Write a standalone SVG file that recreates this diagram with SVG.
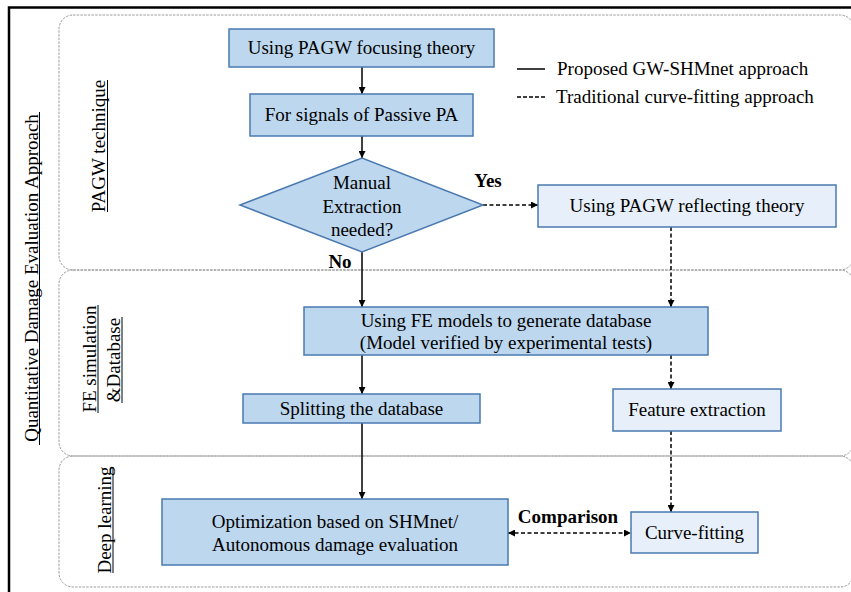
<svg xmlns="http://www.w3.org/2000/svg" width="851" height="592" viewBox="0 0 851 592">
<style>
text{font-family:'Liberation Serif','Tinos','Times New Roman',Times,serif;font-size:19px;fill:#000}
.b{font-weight:bold}
.panel{fill:none;stroke:#9c9c9c;stroke-width:1;stroke-dasharray:2.5 1.2}
.dk{fill:#bdd7ee;stroke:#4a7ab0;stroke-width:1.5}
.lt{fill:#e7f0fa;stroke:#4a7ab0;stroke-width:1.5}
.s{fill:none;stroke:#000;stroke-width:1.5}
.d{fill:none;stroke:#000;stroke-width:1.5;stroke-dasharray:4 2.5}
.ul{stroke:#000;stroke-width:1}
</style>
<defs>
<marker id="ah" viewBox="0 0 10 10" refX="10" refY="5" markerWidth="7" markerHeight="7" markerUnits="userSpaceOnUse" orient="auto-start-reverse">
<path d="M0,0 L10,5 L0,10 z" fill="#000"/>
</marker>
</defs>
<rect width="851" height="592" fill="#fff"/>
<rect x="9" y="7.5" width="860" height="600" fill="none" stroke="#000" stroke-width="2.5"/>
<g id="panels">
<rect class="panel" x="59" y="15" width="795" height="255" rx="14"/>
<rect class="panel" x="59" y="270" width="795" height="186" rx="14"/>
<rect class="panel" x="59" y="456" width="795" height="131" rx="14"/>
</g>
<g id="side-labels">
<text transform="translate(37.5,278) rotate(-90)" text-anchor="middle">Quantitative Damage Evaluation Approach</text>
<line class="ul" x1="39.5" y1="112" x2="39.5" y2="445"/>
<text transform="translate(105,146) rotate(-90)" text-anchor="middle">PAGW technique</text>
<line class="ul" x1="107.5" y1="80" x2="107.5" y2="212"/>
<text transform="translate(96,359) rotate(-90)" text-anchor="middle">FE simulation</text>
<line class="ul" x1="98" y1="305" x2="98" y2="413"/>
<text transform="translate(119.5,360) rotate(-90)" text-anchor="middle">&amp;Database</text>
<line class="ul" x1="122" y1="317" x2="122" y2="403"/>
<text transform="translate(110.5,520) rotate(-90)" text-anchor="middle">Deep learning</text>
<line class="ul" x1="113" y1="467" x2="113" y2="573"/>
</g>
<g id="legend">
<line x1="517" y1="69" x2="545" y2="69" stroke="#000" stroke-width="1.5"/>
<text x="557" y="75">Proposed GW-SHMnet approach</text>
<line x1="517" y1="97" x2="545" y2="97" stroke="#000" stroke-width="1.5" stroke-dasharray="4 2"/>
<text x="556" y="103">Traditional curve-fitting approach</text>
</g>
<g id="connectors">
<line class="s" x1="362" y1="67" x2="362" y2="94" marker-end="url(#ah)"/>
<line class="s" x1="362" y1="136" x2="362" y2="158" marker-end="url(#ah)"/>
<line class="s" x1="362" y1="252" x2="362" y2="307" marker-end="url(#ah)"/>
<line class="s" x1="362" y1="355" x2="362" y2="394" marker-end="url(#ah)"/>
<line class="s" x1="362" y1="423" x2="362" y2="499" marker-end="url(#ah)"/>
<line class="d" x1="483" y1="205" x2="538" y2="205" marker-end="url(#ah)"/>
<line class="d" x1="671" y1="227" x2="671" y2="307" marker-end="url(#ah)"/>
<line class="d" x1="671" y1="355" x2="671" y2="389" marker-end="url(#ah)"/>
<line class="d" x1="671" y1="431" x2="671" y2="512" marker-end="url(#ah)"/>
<line class="d" x1="508" y1="533" x2="631" y2="533" marker-start="url(#ah)" marker-end="url(#ah)"/>
<text class="b" x="488" y="187" text-anchor="middle">Yes</text>
<text class="b" x="340" y="268" text-anchor="middle">No</text>
<text class="b" x="568" y="523" text-anchor="middle">Comparison</text>
</g>
<g id="n-focusing">
<rect class="dk" x="229" y="29" width="265" height="38"/>
<text x="361.5" y="54" text-anchor="middle">Using PAGW focusing theory</text>
</g>
<g id="n-signals">
<rect class="dk" x="250" y="94" width="223" height="42"/>
<text x="361.5" y="121" text-anchor="middle">For signals of Passive PA</text>
</g>
<g id="n-decision">
<polygon class="dk" points="240,205 362,158 483,205 362,252"/>
<text x="362" y="189" text-anchor="middle">Manual</text>
<text x="362" y="213" text-anchor="middle">Extraction</text>
<text x="362" y="236" text-anchor="middle">needed?</text>
</g>
<g id="n-reflecting">
<rect class="lt" x="538" y="185" width="298" height="42"/>
<text x="687" y="212" text-anchor="middle">Using PAGW reflecting theory</text>
</g>
<g id="n-fe">
<rect class="dk" x="304" y="307" width="404" height="48"/>
<text x="506" y="327" text-anchor="middle">Using FE models to generate database</text>
<text x="506" y="349" text-anchor="middle">(Model verified by experimental tests)</text>
</g>
<g id="n-splitting">
<rect class="dk" x="243" y="394" width="237" height="29"/>
<text x="361.5" y="415" text-anchor="middle">Splitting the database</text>
</g>
<g id="n-feature">
<rect class="lt" x="613" y="389" width="168" height="42"/>
<text x="697" y="416" text-anchor="middle">Feature extraction</text>
</g>
<g id="n-optimization">
<rect class="dk" x="162" y="499" width="346" height="66"/>
<text x="335" y="528" text-anchor="middle">Optimization based on SHMnet/</text>
<text x="335" y="551" text-anchor="middle">Autonomous damage evaluation</text>
</g>
<g id="n-curve">
<rect class="lt" x="631" y="512" width="127" height="41"/>
<text x="694.5" y="539" text-anchor="middle">Curve-fitting</text>
</g>
</svg>
